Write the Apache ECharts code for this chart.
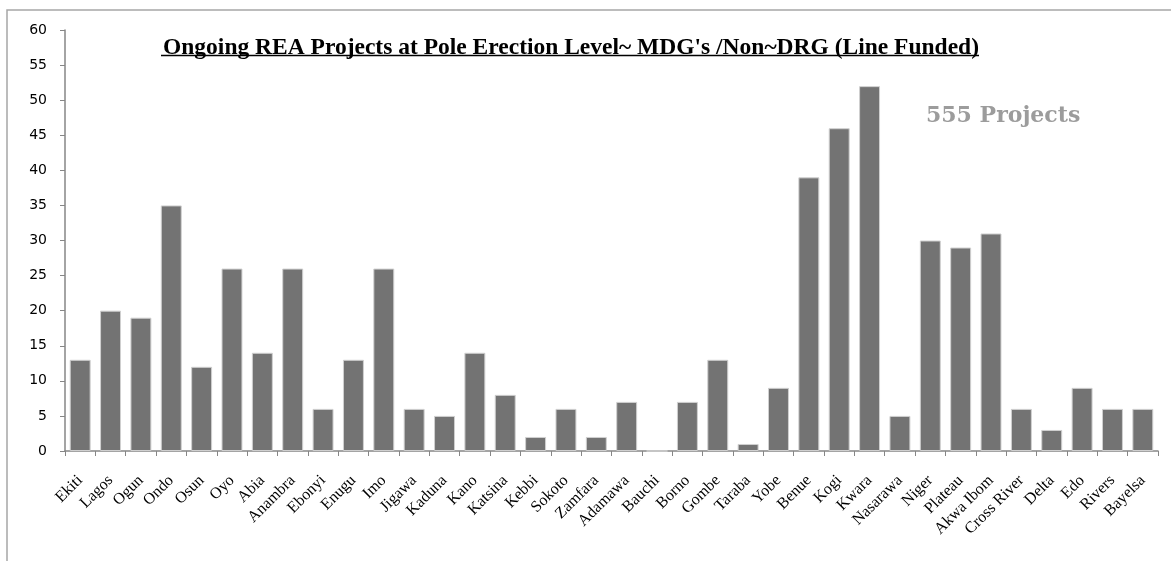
<!DOCTYPE html>
<html>
<head>
<meta charset="utf-8">
<script src="https://cdn.jsdelivr.net/npm/echarts@6/dist/echarts.min.js"></script>
<style>
  html, body { margin: 0; padding: 0; background: #fff; }
  #chart { width: 1171px; height: 561px; }
</style>
</head>
<body>
<div id="chart"></div>
<script>
// States with ongoing projects at pole erection level
const states = ['Ekiti', 'Lagos', 'Ogun', 'Ondo', 'Osun', 'Oyo', 'Abia', 'Anambra', 'Ebonyi', 'Enugu',
  'Imo', 'Jigawa', 'Kaduna', 'Kano', 'Katsina', 'Kebbi', 'Sokoto', 'Zamfara', 'Adamawa', 'Bauchi',
  'Borno', 'Gombe', 'Taraba', 'Yobe', 'Benue', 'Kogi', 'Kwara', 'Nasarawa', 'Niger', 'Plateau',
  'Akwa Ibom', 'Cross River', 'Delta', 'Edo', 'Rivers', 'Bayelsa'];

// Number of projects per state
const projects = [13, 20, 19, 35, 12, 26, 14, 26, 6, 13,
  26, 6, 5, 14, 8, 2, 6, 2, 7, 0,
  7, 13, 1, 9, 39, 46, 52, 5, 30, 29,
  31, 6, 3, 9, 6, 6];

const titleText = "Ongoing REA Projects at Pole Erection Level~ MDG's /Non~DRG (Line Funded)";
const totalText = '555 Projects';

const chart = echarts.init(document.getElementById('chart'));
chart.setOption({
  animation: false,
  backgroundColor: '#ffffff',
  title: [{
    text: titleText,
    left: 566,
    top: 31,
    textAlign: 'center',
    textStyle: {
      fontFamily: 'Liberation Serif',
      fontWeight: 'bold',
      fontSize: 23.5,
      color: '#000'
    }
  }, {
    text: totalText,
    left: 921,
    top: 100,
    textStyle: {
      fontFamily: 'DejaVu Serif',
      fontWeight: 'bold',
      fontSize: 22,
      color: '#9c9c9c'
    }
  }],
  graphic: [{
    // frame around the chart area
    type: 'rect',
    shape: { x: 7, y: 10, width: 1200, height: 600 },
    style: { fill: 'none', stroke: '#a6a6a6', lineWidth: 1.5 },
    silent: true
  }, {
    // title underline
    type: 'line',
    shape: { x1: 161, y1: 55.5, x2: 979, y2: 55.5 },
    style: { stroke: '#000', lineWidth: 1.5 },
    silent: true
  }],
  grid: { left: 65, right: 13, top: 30, bottom: 110 },
  xAxis: {
    type: 'category',
    data: states,
    axisLine: { lineStyle: { color: '#868686', width: 1.5 } },
    axisTick: { show: true, length: 5, lineStyle: { color: '#868686' } },
    axisLabel: {
      rotate: 45,
      interval: 0,
      margin: 27,
      fontFamily: 'Liberation Serif',
      fontSize: 16,
      color: '#000'
    }
  },
  yAxis: {
    type: 'value',
    min: 0,
    max: 60,
    interval: 5,
    splitLine: { show: false },
    axisLine: { show: true, lineStyle: { color: '#868686', width: 1.5 } },
    axisTick: { show: true, length: 5, lineStyle: { color: '#868686' } },
    axisLabel: {
      margin: 18,
      fontFamily: 'DejaVu Sans',
      fontSize: 14,
      color: '#000'
    }
  },
  series: [{
    type: 'bar',
    data: projects,
    barCategoryGap: '31%',
    itemStyle: {
      color: '#737373',
      borderColor: '#d0d0d0',
      borderWidth: 1
    }
  }]
});
</script>
</body>
</html>
